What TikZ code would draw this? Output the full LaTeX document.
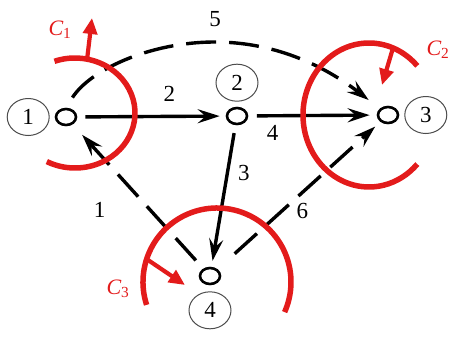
\documentclass[tikz,border=0pt]{standalone}
\usepackage{fontspec}
\setmainfont{Liberation Serif}
\newfontfamily\graphfont{Liberation Serif}
\definecolor{cutRed}{HTML}{E31B1B}
\usetikzlibrary{positioning, arrows.meta, shapes.geometric}

\begin{document}
\begin{tikzpicture}[x=1pt, y=-1pt,
      vert/.style={draw, ellipse, line width=2.6pt, minimum width=20pt, minimum height=16pt, inner sep=0pt},
      tag/.style={draw=black!70, ellipse, line width=1pt, minimum width=42pt, minimum height=37pt,
                  inner sep=0pt, font=\graphfont\fontsize{23}{23}\selectfont},
      num/.style={font=\graphfont\fontsize{23}{23}\selectfont, inner sep=1pt},
      arr/.style={-{Stealth[length=22pt, width=14pt, inset=8pt]}, line width=3.4pt},
      darr/.style={arr, dash pattern=on 30pt off 13pt},
      cut/.style={cutRed, line width=5.5pt},
      cutarr/.style={-{Triangle[length=16pt, width=14pt]}, cutRed, line width=4.2pt},
      cutlbl/.style={cutRed, font=\graphfont\fontsize{22}{22}\selectfont\itshape, inner sep=0pt}]
    \useasboundingbox (0,0) rectangle (451,338);
    % vertices and their numbers
    \node[vert] (v1) at (66,117) {};
    \node[vert] (v2) at (237,116) {};
    \node[vert] (v3) at (388,115) {};
    \node[vert] (v4) at (210,276) {};
    \node[tag, left=5pt of v1] (t1) {1};
    \node[tag, above=5pt of v2] (t2) {2};
    \node[tag, right=5pt of v3] (t3) {3};
    \node[tag, below=6pt of v4] (t4) {4};
    \coordinate (top5) at (215,42);
    % arcs
    \draw[arr, shorten <=8pt, shorten >=6pt] (v1) -- node[num, pos=.62, above=12pt] {2} (v2);
    \draw[arr, shorten <=8.5pt, shorten >=7pt] (v2) -- node[num, pos=.19, below=7pt] {4} (v3);
    \draw[arr, shorten <=8pt, shorten >=6pt] (v2) -- node[num, pos=.34, right=8pt] {3} (v4);
    \draw[darr, shorten <=11pt, shorten >=14pt] (v4) -- node[num, pos=.58, xshift=-28pt, yshift=-25pt] {1} (v1);
    \draw[darr, shorten <=23pt, shorten >=7pt] (v4) -- node[num, pos=.46, xshift=10pt, yshift=-10pt] {6} (v3);
    \draw[darr, shorten <=12pt, shorten >=14pt] (v1.north) .. controls (90,70) and (150,42) .. (top5)
      node[num, above=13pt] {5} .. controls (280,42) and (330,70) .. (v3);
    % cuts
    \draw[cut] (75,113) ++(-110:60 and 55) arc[start angle=-110, end angle=118, x radius=60, y radius=55];
    \draw[cut] (369,115) ++(-43:66 and 72) arc[start angle=-43, end angle=-317, x radius=66, y radius=72];
    \draw[cut] (217,282) ++(-198:74) arc[start angle=-198, end angle=24, radius=74];
    \draw[cutarr] (87,60) -- (92,18);
    \draw[cutarr] (393,48) -- (382,85);
    \draw[cutarr] (148,260) -- (185,285);
    \node[cutlbl] (c1) at (60,30) {C\textsubscript{\upshape 1}};
    \node[cutlbl] (c2) at (438,50) {C\textsubscript{\upshape 2}};
    \node[cutlbl] (c3) at (118,289) {C\textsubscript{\upshape 3}};
  \end{tikzpicture}
\end{document}
